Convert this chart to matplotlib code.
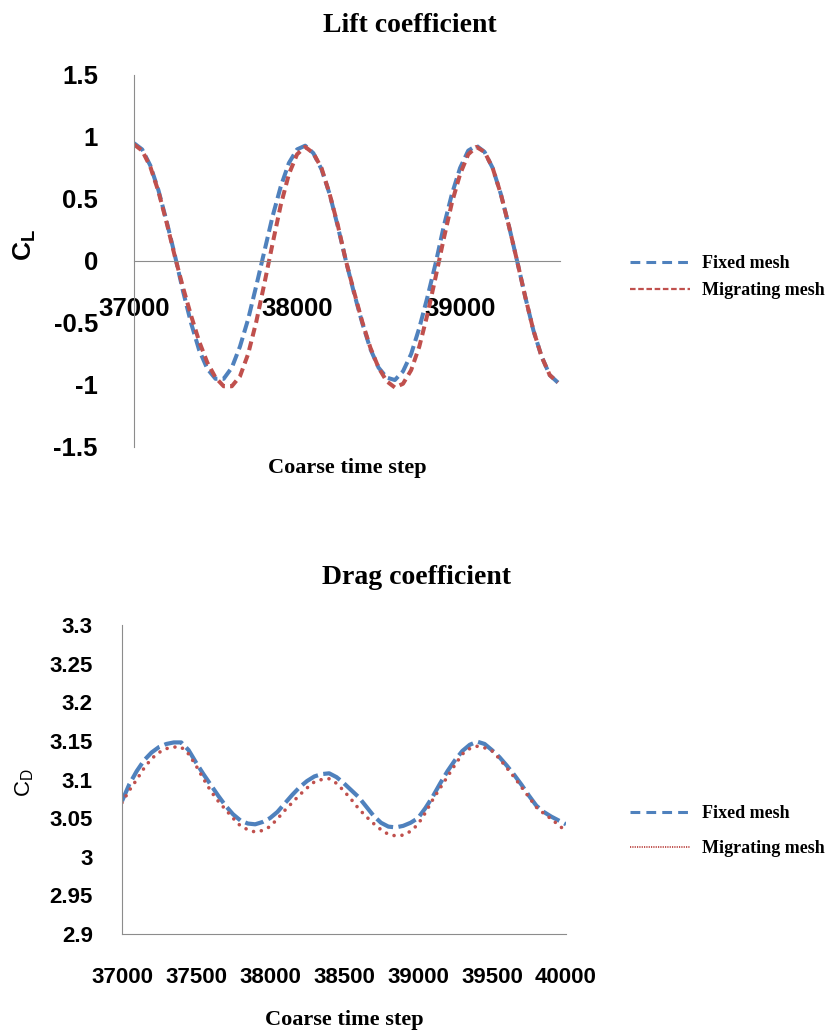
import numpy as np
import matplotlib
matplotlib.use("Agg")
import matplotlib.pyplot as plt
from matplotlib.lines import Line2D
from matplotlib.ticker import FuncFormatter

plt.rcParams["axes.unicode_minus"] = False

BLUE = "#4F81BD"
RED = "#C0504D"
AXIS_GREY = "#8C8C8C"
SANS = "Liberation Sans"
SERIF = "Liberation Serif"

# Lift coefficient, sampled every 50 coarse time steps
lift_steps = [37000, 37050, 37100, 37150, 37200, 37250, 37300, 37350, 37400, 37450,
              37500, 37550, 37600, 37650, 37700, 37750, 37800, 37850, 37900, 37950,
              38000, 38050, 38100, 38150, 38200, 38250, 38300, 38350, 38400, 38450,
              38500, 38550, 38600, 38650, 38700, 38750, 38800, 38850, 38900, 38950,
              39000, 39050, 39100, 39150, 39200, 39250, 39300, 39350, 39400, 39450,
              39500, 39550, 39600]
lift_fixed = [0.95, 0.90, 0.77, 0.57, 0.32, 0.05, -0.24, -0.50, -0.72, -0.87,
              -0.95, -0.95, -0.86, -0.69, -0.47, -0.20, 0.08, 0.36, 0.60, 0.79,
              0.90, 0.93, 0.87, 0.74, 0.54, 0.28, 0.00, -0.26, -0.50, -0.71,
              -0.86, -0.94, -0.96, -0.89, -0.75, -0.54, -0.29, -0.02, 0.28, 0.54,
              0.75, 0.89, 0.93, 0.88, 0.75, 0.54, 0.28, 0.00, -0.29, -0.56,
              -0.77, -0.92, -0.98]
lift_migrating = [0.94, 0.89, 0.76, 0.56, 0.31, 0.04, -0.21, -0.44, -0.65, -0.82,
                  -0.94, -1.01, -1.01, -0.93, -0.75, -0.49, -0.18, 0.14, 0.45, 0.70,
                  0.86, 0.92, 0.87, 0.75, 0.54, 0.29, 0.00, -0.25, -0.49, -0.70,
                  -0.86, -0.97, -1.02, -0.99, -0.88, -0.69, -0.43, -0.13, 0.18, 0.47,
                  0.70, 0.86, 0.92, 0.88, 0.75, 0.54, 0.28, 0.00, -0.29, -0.56,
                  -0.77, -0.92, -0.98]
lift_ticks = [37000, 38000, 39000]
lift_yticks = [-1.5, -1, -0.5, 0, 0.5, 1, 1.5]

# Drag coefficient, sampled every 50 coarse time steps
drag_steps = [37000, 37050, 37100, 37150, 37200, 37250, 37300, 37350, 37400, 37450,
              37500, 37550, 37600, 37650, 37700, 37750, 37800, 37850, 37900, 37950,
              38000, 38050, 38100, 38150, 38200, 38250, 38300, 38350, 38400, 38450,
              38500, 38550, 38600, 38650, 38700, 38750, 38800, 38850, 38900, 38950,
              39000, 39050, 39100, 39150, 39200, 39250, 39300, 39350, 39400, 39450,
              39500, 39550, 39600, 39650, 39700, 39750, 39800, 39850, 39900, 39950,
              40000]
drag_fixed = [3.072, 3.094, 3.111, 3.125, 3.135, 3.142, 3.146, 3.148, 3.148, 3.138,
              3.122, 3.107, 3.093, 3.079, 3.066, 3.055, 3.047, 3.043, 3.042, 3.045,
              3.050, 3.058, 3.069, 3.080, 3.090, 3.098, 3.104, 3.107, 3.108, 3.103,
              3.095, 3.086, 3.077, 3.065, 3.053, 3.044, 3.039, 3.038, 3.040, 3.044,
              3.050, 3.063, 3.078, 3.095, 3.111, 3.125, 3.137, 3.145, 3.149, 3.146,
              3.138, 3.129, 3.118, 3.106, 3.093, 3.079, 3.066, 3.058, 3.052, 3.047,
              3.042]
drag_migrating = [3.070, 3.086, 3.100, 3.115, 3.127, 3.135, 3.140, 3.142, 3.142, 3.133,
                  3.118, 3.101, 3.085, 3.072, 3.061, 3.050, 3.040, 3.035, 3.032, 3.034,
                  3.039, 3.049, 3.060, 3.070, 3.080, 3.089, 3.097, 3.100, 3.101, 3.095,
                  3.085, 3.074, 3.062, 3.052, 3.043, 3.035, 3.029, 3.027, 3.028, 3.033,
                  3.042, 3.057, 3.074, 3.089, 3.104, 3.119, 3.133, 3.140, 3.143, 3.141,
                  3.137, 3.127, 3.115, 3.103, 3.090, 3.077, 3.064, 3.056, 3.049, 3.041,
                  3.033]
drag_ticks = [37000, 37500, 38000, 38500, 39000, 39500, 40000]
drag_yticks = [2.9, 2.95, 3.0, 3.05, 3.1, 3.15, 3.2, 3.25, 3.3]

W, H = 834, 1032
fig = plt.figure(figsize=(W / 100, H / 100), dpi=100)


def fx(px):
    return px / W


def fy(py):
    return 1 - py / H


fmt = FuncFormatter(lambda v, pos: f"{v:g}")

# ---- Lift coefficient ----
ax1 = fig.add_axes([fx(134), fy(447), fx(560 - 134), (447 - 75) / H])
ax1.plot(lift_steps, lift_fixed, color=BLUE, lw=2.9, dashes=(3.0, 1.3),
         label="Fixed mesh")
ax1.plot(lift_steps, lift_migrating, color=RED, lw=2.9, dashes=(2.2, 1.3),
         label="Migrating mesh")
ax1.set_xlim(37000, 39613)
ax1.set_ylim(-1.5, 1.5)
ax1.set_xticks(lift_ticks)
ax1.set_yticks(lift_yticks)
ax1.yaxis.set_major_formatter(fmt)
for s in ["top", "right"]:
    ax1.spines[s].set_visible(False)
ax1.spines["bottom"].set_position(("data", 0))
ax1.spines["bottom"].set_color(AXIS_GREY)
ax1.spines["left"].set_color(AXIS_GREY)
ax1.tick_params(axis="both", length=0)
ax1.tick_params(axis="x", pad=26)
ax1.tick_params(axis="y", pad=26)
for lab in ax1.get_xticklabels() + ax1.get_yticklabels():
    lab.set_fontfamily(SANS)
    lab.set_fontweight("bold")
    lab.set_fontsize(18.5)

fig.text(fx(410), fy(25), "Lift coefficient", family=SERIF, weight="bold",
         fontsize=20, ha="center", va="center")
fig.text(fx(347), fy(468), "Coarse time step", family=SERIF, weight="bold",
         fontsize=16, ha="center", va="center")
fig.text(fx(25), fy(245), r"C$_\mathregular{L}$", family=SANS, weight="bold",
         fontsize=19, rotation=90, ha="center", va="center")

top_handles = [
    Line2D([], [], color=BLUE, lw=2.2, dashes=(3.2, 2.0)),
    Line2D([], [], color=RED, lw=1.6, dashes=(2.5, 1.2)),
]
fig.legend(top_handles, ["Fixed mesh", "Migrating mesh"], loc="center left",
           bbox_to_anchor=(fx(630), fy(277)), frameon=False, handlelength=3.3,
           handletextpad=0.7, labelspacing=0.55, borderpad=0, borderaxespad=0,
           prop={"family": SERIF, "weight": "bold", "size": 13})

# ---- Drag coefficient ----
ax2 = fig.add_axes([fx(122), fy(934), fx(566 - 122), (934 - 625) / H])
ax2.plot(drag_steps, drag_fixed, color=BLUE, lw=3.0, dashes=(4.5, 1.3),
         label="Fixed mesh")
ax2.plot(drag_steps, drag_migrating, color=RED, lw=2.6, dashes=(0.01, 2.2),
         dash_capstyle="round", label="Migrating mesh")
ax2.set_xlim(37000, 40000)
ax2.set_ylim(2.9, 3.3)
ax2.set_xticks(drag_ticks)
ax2.set_yticks(drag_yticks)
ax2.yaxis.set_major_formatter(fmt)
for s in ["top", "right"]:
    ax2.spines[s].set_visible(False)
ax2.spines["bottom"].set_color(AXIS_GREY)
ax2.spines["left"].set_color(AXIS_GREY)
ax2.tick_params(axis="both", length=0)
ax2.tick_params(axis="x", pad=24)
ax2.tick_params(axis="y", pad=21)
for lab in ax2.get_xticklabels() + ax2.get_yticklabels():
    lab.set_fontfamily(SANS)
    lab.set_fontweight("bold")
    lab.set_fontsize(16)

fig.text(fx(416), fy(578), "Drag coefficient", family=SERIF, weight="bold",
         fontsize=20, ha="center", va="center")
fig.text(fx(344), fy(1020), "Coarse time step", family=SERIF, weight="bold",
         fontsize=16, ha="center", va="center")
fig.text(fx(25), fy(783), r"C$_\mathregular{D}$", family=SANS,
         fontsize=16, rotation=90, ha="center", va="center")

bottom_handles = [
    Line2D([], [], color=BLUE, lw=2.2, dashes=(3.2, 2.0)),
    Line2D([], [], color=RED, lw=1.4, dashes=(0.6, 0.6)),
]
fig.legend(bottom_handles, ["Fixed mesh", "Migrating mesh"], loc="center left",
           bbox_to_anchor=(fx(630), fy(831)), frameon=False, handlelength=3.3,
           handletextpad=0.7, labelspacing=1.0, borderpad=0, borderaxespad=0,
           prop={"family": SERIF, "weight": "bold", "size": 13})

fig.savefig("out.png", dpi=100)
